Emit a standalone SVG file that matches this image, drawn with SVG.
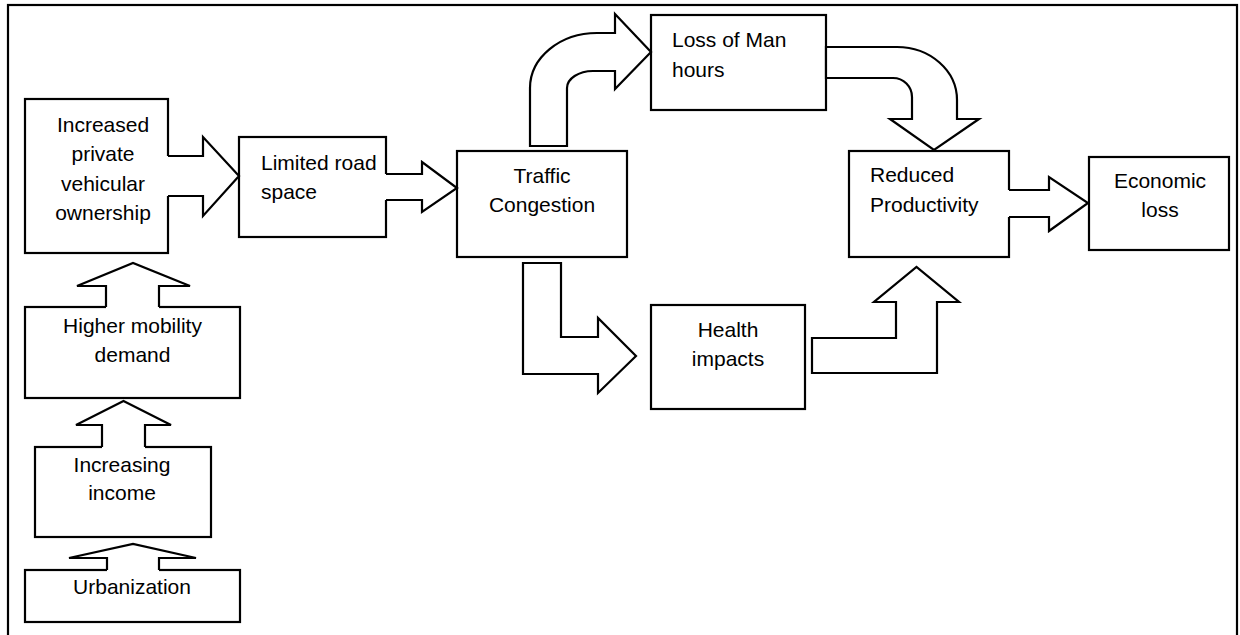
<svg xmlns="http://www.w3.org/2000/svg" width="1240" height="635" viewBox="0 0 1240 635">
<style>
.box{fill:#fff;stroke:#000;stroke-width:2.2}
.frame{fill:none;stroke:#000;stroke-width:2.2}
.af{fill:#fff;stroke:none}
.ae{fill:none;stroke:#000;stroke-width:2.2;stroke-linejoin:miter}
.ac{fill:#fff;stroke:#000;stroke-width:2.2;stroke-linejoin:miter}
text{font-family:"Liberation Sans",Arial,sans-serif;font-size:21px;fill:#000}
.c{text-anchor:middle}
</style>
<rect width="1240" height="635" fill="#fff"/>
<rect class="frame" x="8" y="5" width="1229" height="700"/>
<g id="n-increased"><rect class="box" x="25" y="99" width="143" height="154"/>
<text class="c" x="103" y="132">Increased</text><text class="c" x="103" y="161">private</text><text class="c" x="103" y="191">vehicular</text><text class="c" x="103" y="220">ownership</text></g>
<g id="n-limited"><rect class="box" x="239" y="137" width="147" height="100"/>
<text x="261" y="170">Limited road</text><text x="261" y="199">space</text></g>
<g id="n-traffic"><rect class="box" x="457" y="151" width="170" height="106"/>
<text class="c" x="542" y="183">Traffic</text><text class="c" x="542" y="212">Congestion</text></g>
<g id="n-loss"><rect class="box" x="651" y="15" width="175" height="95"/>
<text x="672" y="47">Loss of Man</text><text x="672" y="77">hours</text></g>
<g id="n-reduced"><rect class="box" x="849" y="151" width="160" height="106"/>
<text x="870" y="182">Reduced</text><text x="870" y="212">Productivity</text></g>
<g id="n-economic"><rect class="box" x="1089" y="157" width="140" height="93"/>
<text class="c" x="1160" y="188">Economic</text><text class="c" x="1160" y="217">loss</text></g>
<g id="n-health"><rect class="box" x="651" y="305" width="154" height="104"/>
<text class="c" x="728" y="337">Health</text><text class="c" x="728" y="366">impacts</text></g>
<g id="n-higher"><rect class="box" x="25" y="307" width="215" height="91"/>
<text class="c" x="132.5" y="333">Higher mobility</text><text class="c" x="132.5" y="362">demand</text></g>
<g id="n-income"><rect class="box" x="35" y="447" width="176" height="90"/>
<text class="c" x="122" y="472">Increasing</text><text class="c" x="122" y="500">income</text></g>
<g id="n-urban"><rect class="box" x="25" y="570" width="215" height="52"/>
<text class="c" x="132" y="594">Urbanization</text></g>
<g id="connectors">
<path class="af" d="M166,156 L203,156 L203,137 L239,176 L203,216 L203,196 L166,196 Z"/>
<path class="ae" d="M168,156 L203,156 L203,137 L239,176 L203,216 L203,196 L168,196"/>
<path class="af" d="M384,174 L422,174 L422,162 L457,188 L422,212 L422,200 L384,200 Z"/>
<path class="ae" d="M386,174 L422,174 L422,162 L457,188 L422,212 L422,200 L386,200"/>
<path class="af" d="M1007,190 L1049,190 L1049,177 L1088,203 L1049,231 L1049,217 L1007,217 Z"/>
<path class="ae" d="M1009,190 L1049,190 L1049,177 L1088,203 L1049,231 L1049,217 L1009,217"/>
<path class="af" d="M106,309 L106,286 L77,286 L133,263 L190,286 L159,286 L159,309 Z"/>
<path class="ae" d="M106,307 L106,286 L77,286 L133,263 L190,286 L159,286 L159,307"/>
<path class="af" d="M102,449 L102,425 L76,425 L123.5,401 L171,425 L145,425 L145,449 Z"/>
<path class="ae" d="M102,447 L102,425 L76,425 L123.5,401 L171,425 L145,425 L145,447"/>
<path class="af" d="M107,572 L107,558 L69,558 L133,544 L196,558 L159,558 L159,572 Z"/>
<path class="ae" d="M107,570 L107,558 L69,558 L133,544 L196,558 L159,558 L159,570"/>
<path class="ac" d="M530,146 L530,88 A67,55 0 0 1 597,33 L615,33 L615,14 L651,52 L615,89 L615,71 L593,71 A26,17 0 0 0 567,88 L567,146 Z"/>
<path class="ac" d="M826,47 L897,47 A60,53 0 0 1 957,100 L957,119 L979,119 L934,150 L890,119 L912,119 L912,97 A19,19 0 0 0 893,78 L826,78 Z"/>
<path class="ac" d="M523,263 L561,263 L561,337 L598,337 L598,318 L636,356 L598,393 L598,374 L523,374 Z"/>
<path class="ac" d="M812,338 L896,338 L896,302 L874,302 L916.5,267 L959,302 L937,302 L937,373 L812,373 Z"/>
</g>
</svg>
